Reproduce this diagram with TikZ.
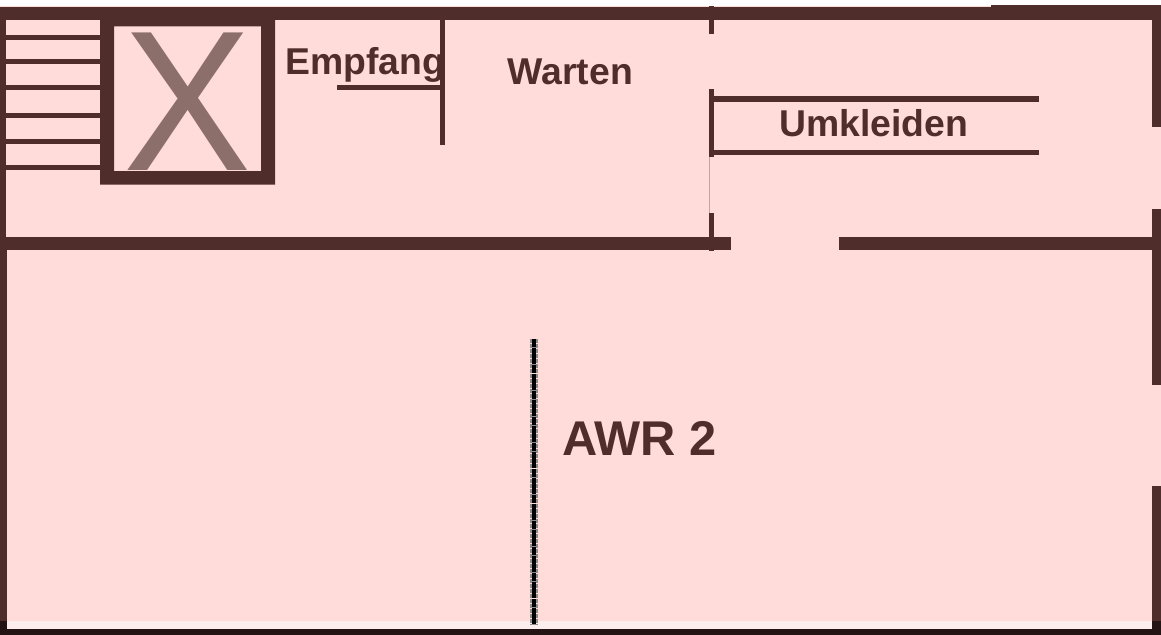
\documentclass[tikz,border=0pt]{standalone}
\usepackage{fontspec}
\setmainfont{Liberation Sans}
\definecolor{wallbrown}{HTML}{4F2D2A}
\definecolor{roompink}{HTML}{FFDCD9}
\definecolor{liftgrey}{HTML}{8C6E6A}
\definecolor{bandpink}{HTML}{FDEEEE}
\definecolor{flooredge}{HTML}{241414}
\tikzset{%
    wall/.style = {draw = none, fill = wallbrown},
    roomlabel/.style = {%
        text = wallbrown,
        font = \fontsize{28}{28}\selectfont\bfseries,
        inner sep = 0pt,
        anchor = base west,
    },
}
\begin{document}
\begin{tikzpicture}[x = 0.75pt, y = -0.75pt]

        \useasboundingbox (0, 0) rectangle (1161, 635);

        % Floor and the pale strip under it.
        \fill[roompink] (0, 6) rectangle (1161, 621);
        \fill[bandpink] (0, 621) rectangle (1161, 629);
        \fill[flooredge] (0, 629) rectangle (1161, 635);
        \fill[flooredge] (0, 621) rectangle (7, 629);
        \fill[flooredge] (1152, 621) rectangle (1161, 629);

        % Outer walls.
        \path[wall] (0, 7) rectangle (1161, 20);
        \path[wall] (991, 5.5) rectangle (1161, 20);
        \path[wall] (0, 20) rectangle (6, 237);
        \path[wall] (0, 249) rectangle (7, 621);
        \path[wall] (1152, 20) rectangle (1161, 127);
        \path[wall] (1152, 209) rectangle (1161, 385);
        \path[wall] (1152, 486) rectangle (1161, 621);
        \path[wall] (0, 236.5) rectangle (731, 249.5);
        \path[wall] (839, 236.5) rectangle (1161, 249.5);

        % Stairs beside the lift.
        \foreach \stairy in {35, 59, 85, 113, 139, 165} {
            \path[wall] (6, \stairy) rectangle (100, \stairy + 5.3);
        }

        % Lift shaft.
        \path[wall, even odd rule] (100, 20) rectangle (275, 184.5)
            (114, 26.5) rectangle (261, 171);
        \node[%
            text = liftgrey,
            font = \fontsize{150}{150}\selectfont,
            inner sep = 0pt,
            anchor = base,
            xscale = 0.96,
        ] (liftmark) at (187.5, 171) {X};

        % Reception.
        \path[wall] (440, 20) rectangle (445, 144.5);
        \path[wall] (337, 85.5) rectangle (440, 90.5);
        \node[roomlabel] (empfang) at (285, 75) {Empfang};
        \node[roomlabel] (warten) at (507.5, 84.5) {Warten};

        % Wall with the two openings, changing rooms.
        \path[wall] (709.3, 6) rectangle (714.3, 34);
        \path[wall] (709.3, 89) rectangle (714.3, 157);
        \path[wall] (709.3, 213) rectangle (714.3, 251);
        \fill[liftgrey!50!roompink] (708.7, 157) rectangle (709.4, 213);
        \path[wall] (714, 96.5) rectangle (1039, 102);
        \path[wall] (714, 149.5) rectangle (1039, 155);
        \node[roomlabel] (umkleiden) at (779, 137) {Umkleiden};

        % Rough partition in the big room.
        \draw[%
            line width = 6pt,
            black!45,
            dash pattern = on 3pt off 0.75pt,
        ] (534, 339) to (534, 625);
        \draw[%
            line width = 3pt,
            black,
            dash pattern = on 6pt off 0.5pt,
        ] (534, 339) to (534, 625);
        \node[%
            roomlabel,
            font = \fontsize{36.6}{36.6}\selectfont\bfseries,
        ] (awr) at (562, 455) {AWR 2};

    \end{tikzpicture}
\end{document}
